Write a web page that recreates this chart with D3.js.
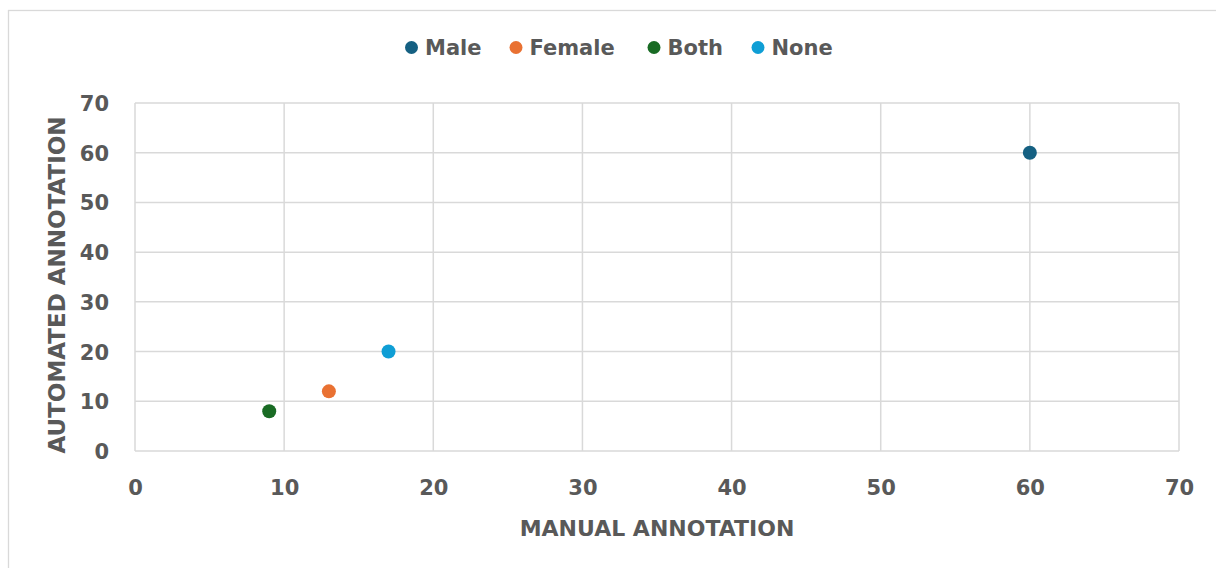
<!DOCTYPE html>
<html>
<head>
<meta charset="utf-8">
<script src="https://cdn.jsdelivr.net/npm/d3@7"></script>
<style>
  html, body { margin: 0; padding: 0; background: #fff; }
  svg { display: block; }
  text { font-family: "DejaVu Sans", sans-serif; font-weight: bold; fill: #595959; }
</style>
</head>
<body>
<svg id="chart" width="1216" height="568"></svg>
<script>
const seriesNames = ["Male", "Female", "Both", "None"];
const seriesColors = ["#156082", "#E97132", "#196B24", "#0F9ED5"];
const manualValues = [60, 13, 9, 17];
const automatedValues = [60, 12, 8, 20];
const xTicks = [0, 10, 20, 30, 40, 50, 60, 70];
const yTicks = [0, 10, 20, 30, 40, 50, 60, 70];
const xTitle = "MANUAL ANNOTATION";
const yTitle = "AUTOMATED ANNOTATION";

const svg = d3.select("#chart");
const plot = { left: 135, right: 1179, top: 103, bottom: 451 };

// outer chart border
svg.append("rect")
  .attr("x", 8.5).attr("y", 10.5)
  .attr("width", 1300).attr("height", 700)
  .attr("fill", "none").attr("stroke", "#D9D9D9").attr("stroke-width", 1.3);

const x = d3.scaleLinear().domain([0, 70]).range([plot.left, plot.right]);
const y = d3.scaleLinear().domain([0, 70]).range([plot.bottom, plot.top]);

// gridlines
const grid = svg.append("g");
grid.selectAll("line.v").data(xTicks).enter().append("line")
  .attr("x1", d => x(d)).attr("x2", d => x(d))
  .attr("y1", plot.top).attr("y2", plot.bottom)
  .attr("stroke", "#D9D9D9").attr("stroke-width", 1.5);
grid.selectAll("line.h").data(yTicks).enter().append("line")
  .attr("x1", plot.left).attr("x2", plot.right)
  .attr("y1", d => y(d)).attr("y2", d => y(d))
  .attr("stroke", "#D9D9D9").attr("stroke-width", 1.5);

// axes (labels only)
const xAxis = d3.axisBottom(x).tickValues(xTicks).tickSize(0).tickPadding(0);
const gx = svg.append("g").attr("transform", `translate(0,${plot.bottom})`).call(xAxis);
gx.select(".domain").remove();
gx.selectAll("text").attr("dy", null).attr("y", 44)
  .style("font-size", "21px").style("font-family", "DejaVu Sans, sans-serif")
  .style("font-weight", "bold").attr("fill", "#595959");

const yAxis = d3.axisLeft(y).tickValues(yTicks).tickSize(0).tickPadding(0);
const gy = svg.append("g").attr("transform", `translate(109,0)`).call(yAxis);
gy.select(".domain").remove();
gy.selectAll("text").attr("x", 0).attr("dy", "0.36em")
  .style("font-size", "21px").style("font-family", "DejaVu Sans, sans-serif")
  .style("font-weight", "bold").attr("fill", "#595959");

// axis titles
svg.append("text").attr("x", (plot.left + plot.right) / 2).attr("y", 536)
  .attr("text-anchor", "middle").style("font-size", "22px").text(xTitle);
svg.append("text")
  .attr("transform", `translate(65,285) rotate(-90)`)
  .attr("text-anchor", "middle").style("font-size", "23px").text(yTitle);

// points
const pts = seriesNames.map((n, i) => ({ name: n, color: seriesColors[i], mx: manualValues[i], ay: automatedValues[i] }));
svg.append("g").selectAll("circle").data(pts).enter().append("circle")
  .attr("cx", d => x(d.mx)).attr("cy", d => y(d.ay)).attr("r", 7)
  .attr("fill", d => d.color);

// legend
const legendX = [411.5, 516, 654, 758];
const lg = svg.append("g");
pts.forEach((d, i) => {
  lg.append("circle").attr("cx", legendX[i]).attr("cy", 47.5).attr("r", 6.5).attr("fill", d.color);
  lg.append("text").attr("x", legendX[i] + 13.5).attr("y", 55.3)
    .style("font-size", "21px").text(d.name);
});
</script>
</body>
</html>
